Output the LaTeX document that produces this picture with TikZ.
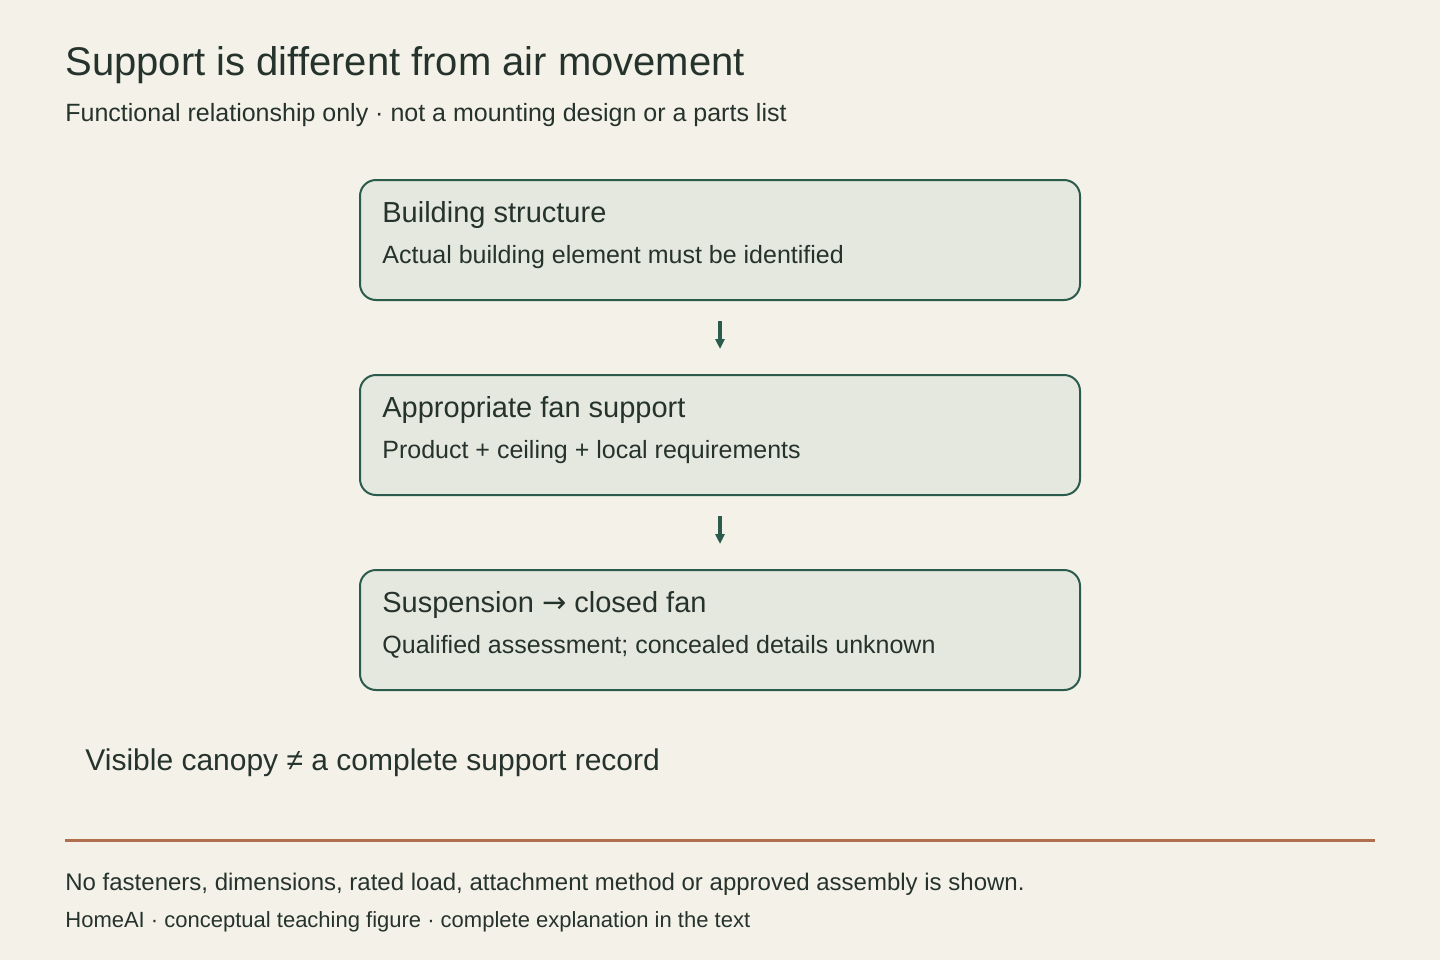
\documentclass[tikz,border=0pt]{standalone}
\usepackage{fontspec}
\setmainfont{Liberation Sans}
\newfontfamily\symfont{DejaVu Sans}
\usetikzlibrary{arrows.meta}
\definecolor{bgcream}{HTML}{F4F2E8}
\definecolor{boxfill}{HTML}{E5E8DE}
\definecolor{boxline}{HTML}{2B5B4D}
\definecolor{inkdark}{HTML}{26332D}
\definecolor{rulerust}{HTML}{B0704E}
\tikzset{
  stagebox/.style={rectangle, rounded corners=8pt, fill=boxfill, draw=boxline, line width=1pt, minimum width=360pt, minimum height=60pt},
  stagetitle/.style={anchor=base west, inner sep=0pt, text=inkdark, font=\fontsize{14.5pt}{17pt}\selectfont},
  stagenote/.style={anchor=base west, inner sep=0pt, text=inkdark, font=\fontsize{12.5pt}{15pt}\selectfont},
  flowarrow/.style={-{Triangle[length=5pt,width=4.5pt]}, line width=2pt, color=boxline, shorten <=10pt, shorten >=12.5pt}
}
\begin{document}
\begin{tikzpicture}[x=0.5pt, y=-0.5pt]
	\useasboundingbox[fill=bgcream] (0,0) rectangle (1440,960);

	\node[anchor=base west, inner sep=0pt, text=inkdark, font=\fontsize{20pt}{24pt}\selectfont](heading) at (65,75){Support is different from air movement};
	\node[anchor=base west, inner sep=0pt, text=inkdark, font=\fontsize{12.5pt}{15pt}\selectfont](subheading) at (65,121){Functional relationship only · not a mounting design or a parts list};

	\node[stagebox](structure) at (720,240){};
	\node[stagebox](support) at (720,435){};
	\node[stagebox](suspension) at (720,630){};

	\node[stagetitle](structureTitle) at (382,222){Building structure};
	\node[stagenote](structureNote) at (382,263){Actual building element must be identified};
	\node[stagetitle](supportTitle) at (382,417){Appropriate fan support};
	\node[stagenote](supportNote) at (382,458){Product + ceiling + local requirements};
	\node[stagetitle](suspensionTitle) at (382,612){Suspension {\symfont →} closed fan};
	\node[stagenote](suspensionNote) at (382,653){Qualified assessment; concealed details unknown};

	\draw [flowarrow] (structure.south) -- (support.north);
	\draw [flowarrow] (support.south) -- (suspension.north);

	\node[anchor=base west, inner sep=0pt, text=inkdark, font=\fontsize{15pt}{18pt}\selectfont](canopy) at (85,770){Visible canopy ≠ a complete support record};

	\coordinate (ruleLeft) at (65,840);
	\coordinate (ruleRight) at (1375,840);
	\draw [line width=1.5pt, color=rulerust] (ruleLeft) -- (ruleRight);

	\node[anchor=base west, inner sep=0pt, text=inkdark, font=\fontsize{12pt}{14pt}\selectfont](disclaimer) at (65,890){No fasteners, dimensions, rated load, attachment method or approved assembly is shown.};
	\node[anchor=base west, inner sep=0pt, text=inkdark, font=\fontsize{11pt}{13pt}\selectfont](credit) at (65,927){HomeAI · conceptual teaching figure · complete explanation in the text};
\end{tikzpicture}
\end{document}
